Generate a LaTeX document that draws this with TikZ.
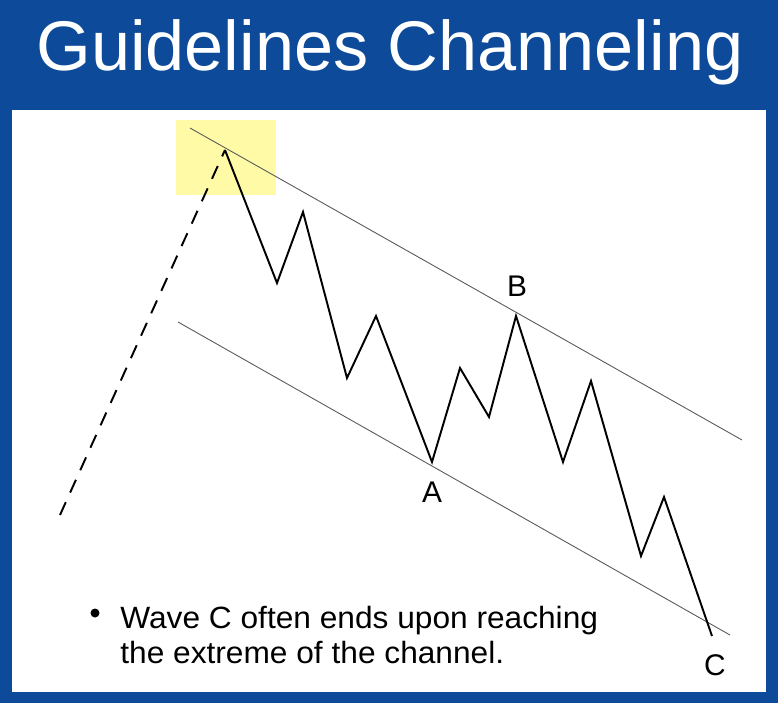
\documentclass[tikz,border=0pt]{standalone}
\usepackage{fontspec}
\setmainfont{Liberation Sans}
\begin{document}
\begin{tikzpicture}[x=0.02cm,y=-0.02cm,
  chan/.style={draw=gray!70!black,line width=0.5pt},
  wave/.style={draw=black,line width=1.1pt,line join=miter},
  lbl/.style={font=\fontsize{17}{19}\selectfont}]
\fill[fill={rgb,255:red,14;green,74;blue,154}] (0,0) rectangle (778,703);
\fill[white] (12,110) rectangle (766,692);
\useasboundingbox (0,0) rectangle (778,703);
\node[text=white,font=\fontsize{40}{46}\selectfont] (title) at (390,52) {Guidelines Channeling};
\fill[yellow!35] (176,120) rectangle (276,195);
\coordinate (u1) at (190,128); \coordinate (u2) at (742,440);
\coordinate (l1) at (178,322); \coordinate (l2) at (730,635);
\draw[chan] (u1) -- (u2);
\draw[chan] (l1) -- (l2);
\coordinate (d0) at (60,515); \coordinate (p0) at (225,150);
\draw[wave,dash pattern=on 8pt off 6pt] (d0) -- (p0);
\draw[wave] (p0)--(277,283)--(303,212)--(347,378)--(376,316)--(432,462)--(460,368)--(489,417)--(516,316)--(563,462)--(591,381)--(641,556)--(664,497)--(712,636);
\node[lbl] (B) at (517,286) {B};
\node[lbl] (A) at (432,492) {A};
\node[lbl] (C) at (715,665) {C};
\fill (95,613) circle (4.5);
\node[anchor=north west,align=left,font=\fontsize{17.5}{20}\selectfont,xscale=1.03] (txt) at (114,600) {Wave C often ends upon reaching\\the extreme of the channel.};
\end{tikzpicture}
\end{document}
